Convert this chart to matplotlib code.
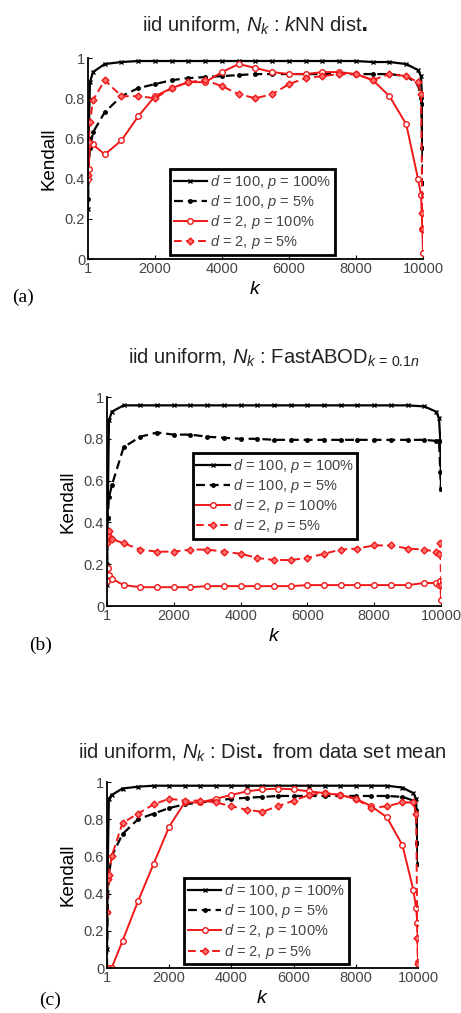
import matplotlib
matplotlib.use("Agg")
import matplotlib.pyplot as plt

plt.rcParams.update({
    "font.family": ["Liberation Sans", "DejaVu Sans"],
    "mathtext.fontset": "custom",
    "mathtext.rm": "Liberation Sans",
    "mathtext.it": "Liberation Sans:italic",
})

# sample positions of k (dense near both ends)
K = [1, 20, 60, 150, 500, 1000, 1500, 2000, 2500, 3000, 3500, 4000, 4500,
     5000, 5500, 6000, 6500, 7000, 7500, 8000, 8500, 9000, 9500,
     9850, 9940, 9980, 10000]

# (a) kNN dist.
a_d100_p100 = [0.25, 0.60, 0.88, 0.93, 0.97, 0.98, 0.985, 0.985, 0.985, 0.985, 0.985, 0.985, 0.985,
               0.985, 0.985, 0.985, 0.985, 0.985, 0.985, 0.985, 0.98, 0.98, 0.97,
               0.94, 0.91, 0.77, 0.55]
a_d100_p5 = [0.30, 0.45, 0.55, 0.63, 0.73, 0.81, 0.85, 0.87, 0.89, 0.90, 0.905, 0.91, 0.915,
             0.92, 0.92, 0.92, 0.92, 0.92, 0.92, 0.92, 0.92, 0.92, 0.91,
             0.87, 0.80, 0.55, 0.38]
a_d2_p100 = [0.40, 0.45, 0.57, 0.57, 0.52, 0.59, 0.71, 0.81, 0.85, 0.88, 0.88, 0.93, 0.97,
             0.95, 0.93, 0.92, 0.92, 0.93, 0.93, 0.92, 0.89, 0.81, 0.67,
             0.40, 0.32, 0.15, 0.03]
a_d2_p5 = [0.42, 0.58, 0.68, 0.79, 0.89, 0.81, 0.81, 0.80, 0.85, 0.88, 0.89, 0.86, 0.82,
           0.80, 0.82, 0.87, 0.90, 0.91, 0.92, 0.92, 0.89, 0.92, 0.91,
           0.88, 0.82, 0.23, 0.15]

# (b) FastABOD
b_d100_p100 = [0.10, 0.42, 0.89, 0.93, 0.96, 0.96, 0.96, 0.96, 0.96, 0.96, 0.96, 0.96, 0.96,
               0.96, 0.96, 0.96, 0.96, 0.96, 0.96, 0.96, 0.96, 0.96, 0.955,
               0.93, 0.90, 0.79, 0.56]
b_d100_p5 = [0.20, 0.42, 0.52, 0.58, 0.76, 0.81, 0.83, 0.82, 0.82, 0.81, 0.805, 0.80, 0.80,
             0.795, 0.795, 0.795, 0.795, 0.795, 0.795, 0.795, 0.795, 0.795, 0.795,
             0.79, 0.79, 0.64, 0.56]
b_d2_p100 = [0.12, 0.18, 0.15, 0.13, 0.10, 0.09, 0.09, 0.09, 0.09, 0.095, 0.095, 0.095, 0.095,
             0.095, 0.095, 0.10, 0.10, 0.10, 0.10, 0.10, 0.10, 0.10, 0.11,
             0.11, 0.10, 0.12, 0.03]
b_d2_p5 = [0.30, 0.34, 0.36, 0.32, 0.30, 0.27, 0.26, 0.26, 0.27, 0.27, 0.26, 0.25, 0.23,
           0.22, 0.22, 0.23, 0.25, 0.27, 0.275, 0.29, 0.29, 0.275, 0.27,
           0.26, 0.25, 0.30, 0.10]

# (c) Dist. from data set mean
c_d100_p100 = [0.10, 0.50, 0.91, 0.93, 0.965, 0.975, 0.98, 0.98, 0.98, 0.98, 0.98, 0.98, 0.98,
               0.98, 0.98, 0.98, 0.98, 0.98, 0.98, 0.98, 0.98, 0.98, 0.97,
               0.94, 0.91, 0.67, 0.56]
c_d100_p5 = [0.0, 0.30, 0.50, 0.60, 0.72, 0.80, 0.83, 0.86, 0.88, 0.89, 0.90, 0.91, 0.915,
             0.92, 0.925, 0.925, 0.925, 0.925, 0.925, 0.925, 0.925, 0.925, 0.92,
             0.90, 0.85, 0.67, 0.56]
c_d2_p100 = [0.0, 0.0, 0.0, 0.0, 0.146, 0.36, 0.56, 0.76, 0.89, 0.89, 0.91, 0.93, 0.95,
             0.96, 0.965, 0.96, 0.95, 0.94, 0.93, 0.91, 0.87, 0.81, 0.66,
             0.42, 0.32, 0.24, 0.03]
c_d2_p5 = [0.30, 0.48, 0.50, 0.60, 0.78, 0.83, 0.88, 0.91, 0.90, 0.90, 0.89, 0.87, 0.85,
           0.84, 0.87, 0.90, 0.93, 0.94, 0.93, 0.91, 0.86, 0.87, 0.89,
           0.89, 0.83, 0.16, 0.02]

labels = [r"$d$ = 100, $p$ = 100%", r"$d$ = 100, $p$ = 5%",
          r"$d$ = 2, $p$ = 100%", r"$d$ = 2, $p$ = 5%"]
titles = [r"iid uniform, $N_k$ : $k$NN dist$\mathbf{.}$",
          r"iid uniform, $N_k$ : FastABOD$_{k\,=\,0.1n}$",
          r"iid uniform, $N_k$ : Dist$\mathbf{.}$ from data set mean"]
panel_tags = ["(a)", "(b)", "(c)"]
xticks = [1, 2000, 4000, 6000, 8000, 10000]
yticks = [0, 0.2, 0.4, 0.6, 0.8, 1]
ytick_labels = ["0", "0.2", "0.4", "0.6", "0.8", "1"]

panels = [
    (a_d100_p100, a_d100_p5, a_d2_p100, a_d2_p5),
    (b_d100_p100, b_d100_p5, b_d2_p100, b_d2_p5),
    (c_d100_p100, c_d100_p5, c_d2_p100, c_d2_p5),
]

W, H = 461, 1013
fig = plt.figure(figsize=(W / 100, H / 100), dpi=100)

# axes boxes in pixels: left, top, right, bottom
boxes = [(88, 58, 423, 259), (107, 397, 441, 606), (107, 782, 418, 968)]
legend_boxes = [(0.245, 0.02), (0.257, 0.32), (0.248, 0.02)]
title_pads = [19, 24, 17]
tag_pos = [(12, 297), (29, 645), (39, 1000)]

red = "#f01818"
dash = (0, (4, 2.2))

for i, series in enumerate(panels):
    l, t, r, b = boxes[i]
    ax = fig.add_axes([l / W, 1 - b / H, (r - l) / W, (b - t) / H])
    s1, s2, s3, s4 = series
    ax.plot(K, s1, color="black", lw=1.6, marker="x", ms=3, mew=1.0, label=labels[0])
    ax.plot(K, s2, color="black", lw=1.6, ls=dash, marker=".", ms=5, label=labels[1])
    ax.plot(K, s3, color=red, lw=1.4, marker="o", ms=4, mfc="white", mew=1.0, label=labels[2])
    ax.plot(K, s4, color=red, lw=1.4, ls=dash, marker="D", ms=3.5, mfc="#ff7070", mew=1.0, label=labels[3])

    ax.set_xlim(1, 10000)
    ax.set_ylim(0, 1)
    ax.set_xticks(xticks)
    ax.set_yticks(yticks)
    ax.set_yticklabels(ytick_labels)
    ax.tick_params(direction="in", length=3, labelsize=10.5, labelcolor="#444444", pad=2)
    ax.spines["top"].set_visible(False)
    ax.spines["right"].set_visible(False)
    for sp in ("left", "bottom"):
        ax.spines[sp].set_linewidth(1.3)
    ax.set_title(titles[i], fontsize=14.5, pad=title_pads[i], color="#222222")
    ax.set_xlabel(r"$k$", fontsize=14, labelpad=4)
    ax.set_ylabel("Kendall", fontsize=13.5, labelpad=5)

    leg = ax.legend(loc="lower left", bbox_to_anchor=legend_boxes[i], fontsize=10.5,
                    frameon=True, fancybox=False, framealpha=1, edgecolor="black",
                    handlelength=2.3, handletextpad=0.2, labelspacing=0.15,
                    borderpad=0.25, borderaxespad=0)
    leg.get_frame().set_linewidth(2.0)
    for txt in leg.get_texts():
        txt.set_color("#444444")

    fig.text(tag_pos[i][0] / W, 1 - tag_pos[i][1] / H, panel_tags[i],
             family=["Liberation Serif", "DejaVu Serif"], fontsize=14, va="center")

fig.savefig("out.png", dpi=100)
